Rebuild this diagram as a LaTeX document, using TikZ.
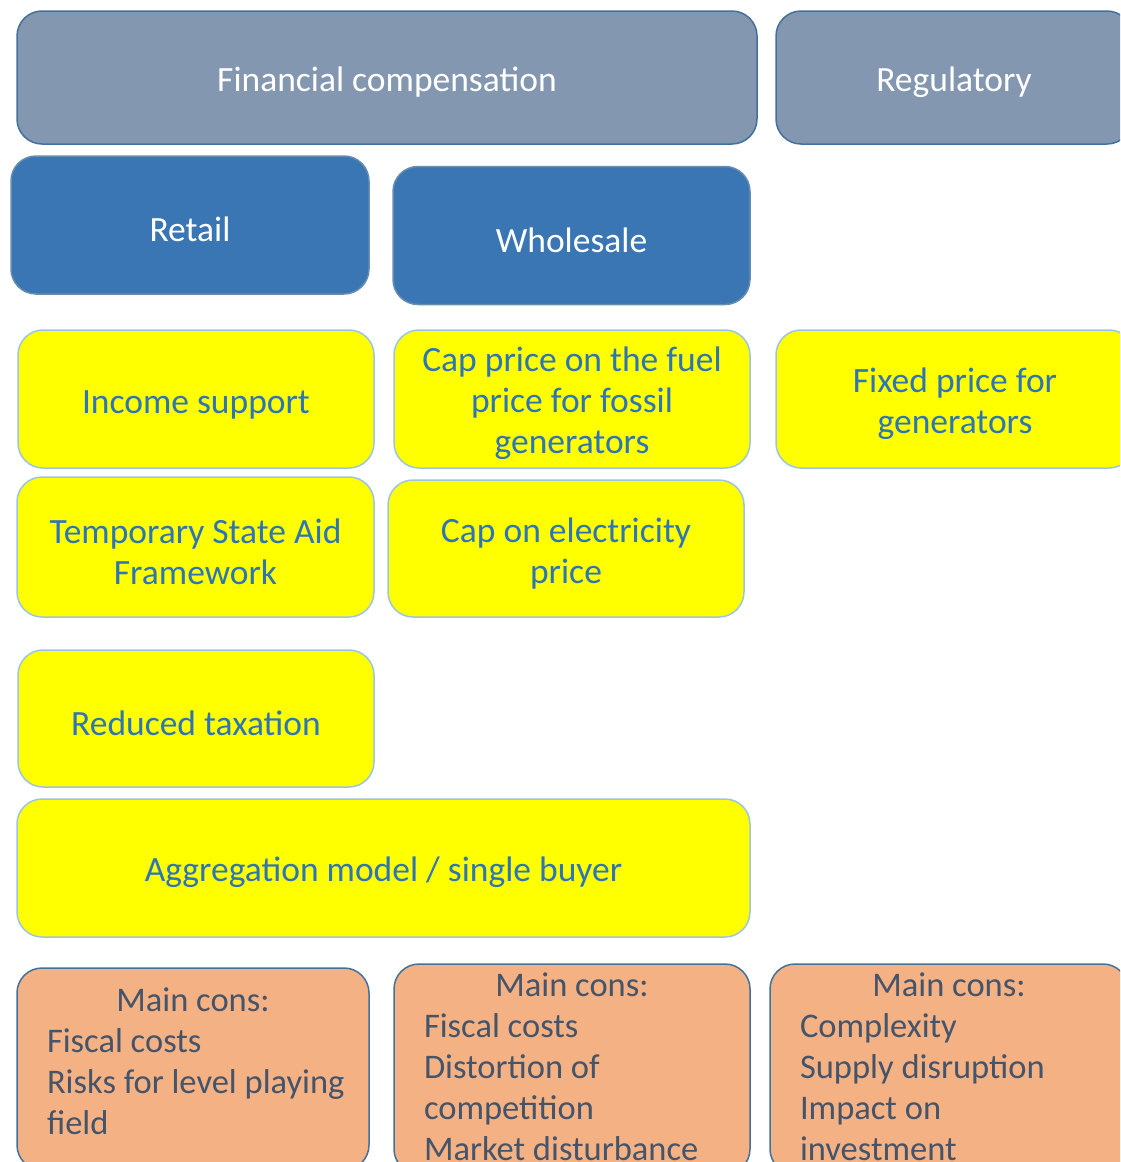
\documentclass[tikz,border=0pt]{standalone}
\usepackage{fontspec}
\setmainfont{Carlito}
\usepackage{tikz}
\usetikzlibrary{shapes,positioning}
\definecolor{catgrey}{HTML}{8497B0}
\definecolor{catblue}{HTML}{3A75B4}
\definecolor{edgeblue}{HTML}{41719C}
\definecolor{lightedge}{HTML}{9DC3E6}
\definecolor{textblue}{HTML}{2E75B6}
\definecolor{measfill}{HTML}{FFFF00}
\definecolor{consfill}{HTML}{F4B183}
\definecolor{constext}{HTML}{44546A}
\tikzstyle{basebox} = [rectangle, rounded corners=25pt, line width=1.5pt, inner xsep=8pt]
\tikzstyle{boxtext} = [basebox, align=flush center, text width=330pt, font=\fontsize{35.5}{41}\selectfont, execute at begin node={\rule{0pt}{34pt}}]
\tikzstyle{category} = [boxtext, draw=edgeblue, fill=catgrey, text=white, minimum height=133pt]
\tikzstyle{market} = [boxtext, draw=edgeblue!80, fill=catblue, text=white, minimum width=357pt, minimum height=138pt]
\tikzstyle{measure} = [boxtext, draw=lightedge, fill=measfill, text=textblue, minimum width=356pt, minimum height=138pt]
\tikzstyle{cons} = [basebox, draw=edgeblue, fill=consfill, text=constext, align=flush left, inner xsep=0pt, font=\fontsize{34.5}{41}\selectfont]

\begin{document}
\begin{tikzpicture}[x=1pt, y=1pt]
	\useasboundingbox (0,0) rectangle (1120,-1162);
	\begin{scope}
	\clip (0,0) rectangle (1120,-1162);
	% categories
	\node [category, minimum width=740pt, text width=700pt] (fin) at (387,-77.5) {Financial compensation};
	\node [category, minimum width=356pt] (reg) at (954,-77.5) {Regulatory};
	\node [market, minimum width=358pt] (retail) at (190,-225) {Retail};
	\node [market] (wholesale) at (571.5,-235.5) {Wholesale};
	% measures
	\node [measure] (income) at (196,-399) {Income support};
	\node [measure] (fuel) at (572,-399) {Cap price on the fuel\\price for fossil\\generators};
	\node [measure, minimum width=358pt] (fixed) at (955,-399) {Fixed price for\\generators};
	\node [measure, minimum width=357pt, minimum height=140pt] (aid) at (195.5,-547) {Temporary State Aid\\Framework};
	\node [measure, minimum height=137pt] (elec) at (566,-548.5) {Cap on electricity\\price};
	\node [measure, minimum height=137pt] (tax) at (196,-718.5) {Reduced taxation};
	\node [measure, minimum width=733pt, text width=700pt] (aggr) at (383.5,-868) {Aggregation model / single buyer};
	% main cons
	\node [cons, minimum width=352pt, minimum height=202pt, text width=292pt] (cons1) at (193,-1069)
		{\makebox[292pt]{Main cons:}\\Fiscal costs\\\mbox{Risks for level playing}\\field\rule[-16pt]{0pt}{16pt}};
	\node [cons, minimum width=356pt, minimum height=210pt, text width=296pt] (cons2) at (572,-1069)
		{\makebox[296pt]{Main cons:}\\Fiscal costs\\Distortion of\\competition\\\mbox{Market disturbance}\rule[-5pt]{0pt}{5pt}};
	\node [cons, minimum width=358pt, minimum height=210pt, text width=298pt] (cons3) at (949,-1069)
		{\makebox[298pt]{Main cons:}\\Complexity\\\mbox{Supply disruption}\\Impact on\\investment\rule[-5pt]{0pt}{5pt}};
	\end{scope}
\end{tikzpicture}
\end{document}
